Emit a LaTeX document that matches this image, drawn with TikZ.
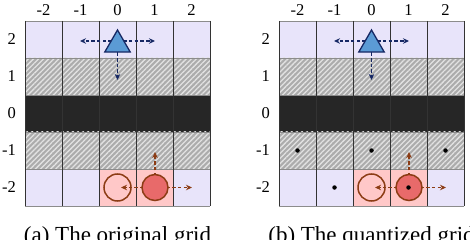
\documentclass[tikz,border=0pt]{standalone}
\usepackage{fontspec}
\setmainfont{Liberation Serif}
\usetikzlibrary{patterns.meta,arrows.meta,shapes.geometric}
\definecolor{lav}{RGB}{232,228,250}
\definecolor{hatchbg}{RGB}{172,172,172}
\definecolor{hatchln}{RGB}{226,226,226}
\definecolor{wall}{RGB}{38,38,38}
\definecolor{pinkc}{RGB}{255,200,200}
\definecolor{tribl}{RGB}{91,155,213}
\definecolor{navy}{RGB}{22,40,100}
\definecolor{brownc}{RGB}{140,60,20}
\definecolor{redf}{RGB}{232,106,106}
\begin{document}
\begin{tikzpicture}[x=1pt,y=-1pt,
  hatchrow/.style={pattern={Lines[angle=45,distance=3.6pt,line width=1.3pt]},pattern color=hatchln},
  vline/.style={draw=black!80,line width=0.8pt},
  hline/.style={draw=black!45,line width=0.5pt},
  lbl/.style={font=\fontsize{16.5}{19}\selectfont,inner sep=0pt},
  captext/.style={font=\fontsize{23}{28}\selectfont,inner sep=0pt,anchor=base},
  navarrow/.style={draw=navy,line width=1.5pt,dash pattern=on 3.5pt off 2.2pt,-{Stealth[length=6pt,width=5.5pt]}},
  brarrow/.style={draw=brownc,line width=1.5pt,dash pattern=on 3.5pt off 2.2pt,-{Stealth[length=6pt,width=5.5pt]}},
  agent/.style={regular polygon,regular polygon sides=3,minimum size=29.4pt,inner sep=0pt,fill=tribl,draw=navy,line width=1.3pt},
  hollowc/.style={circle,minimum size=27pt,inner sep=0pt,draw=brownc,line width=1.5pt},
  fullc/.style={circle,minimum size=26pt,inner sep=0pt,draw=brownc,fill=redf,line width=1.5pt},
  qdot/.style={circle,fill=black,minimum size=4.5pt,inner sep=0pt}]
\useasboundingbox (0,0) rectangle (470,240);
\foreach \g/\ox/\capt in {a/0/{(a) The original grid},b/254/{(b) The quantized grid}} {
 \begin{scope}[xshift=\ox pt]
  \fill[lav] (25,21) rectangle (210,58);
  \fill[hatchbg] (25,58) rectangle (210,95);
  \fill[hatchrow] (25,58) rectangle (210,95);
  \fill[wall] (25,95) rectangle (210,132);
  \fill[hatchbg] (25,132) rectangle (210,169);
  \fill[hatchrow] (25,132) rectangle (210,169);
  \fill[lav] (25,169) rectangle (210,206);
  \fill[pinkc] (99,169) rectangle (173,206);
  \foreach \yy in {21,58,95,132,169,206} \draw[hline] (25,\yy) -- (210,\yy);
  \foreach \xx in {25,62,99,136,173,210} \draw[vline] (\xx,21) -- (\xx,206);
  \foreach \v [count=\i from 0] in {-2,-1,0,1,2} {
    \node[lbl] (col\g\i) at (43.5+37*\i,10) {\v};
  }
  \foreach \v [count=\i from 0] in {2,1,0,-1,-2} {
    \node[lbl,anchor=east] (row\g\i) at (16,39.5+37*\i) {\v};
  }
  % agent triangle and its moves
  \coordinate (tc\g) at (117.5,41);
  \coordinate (tl\g) at (80,41);
  \coordinate (tr\g) at (155,41);
  \coordinate (td\g) at (117.5,80);
  \draw[navarrow] (tc\g) -- (tl\g);
  \draw[navarrow] (tc\g) -- (tr\g);
  \draw[navarrow] (tc\g) -- (td\g);
  \node[agent] (tri\g) at (117.5,44.7) {};
  % circles and their moves
  \node[hollowc] (hc\g) at (117.5,187.5) {};
  \coordinate (fcc\g) at (155,187.5);
  \coordinate (fl\g) at (121,187.5);
  \coordinate (fu\g) at (155,152);
  \coordinate (fr\g) at (192,187.5);
  \draw[brarrow] (fcc\g) -- (fl\g);
  \draw[brarrow] (fcc\g) -- (fu\g);
  \draw[brarrow] (fcc\g) -- (fr\g);
  \node[fullc] (fc\g) at (fcc\g) {};
  \node[captext] (cap\g) at (117.5,242) {\capt};
 \end{scope}
}
\begin{scope}[xshift=254pt]
  \node[qdot] (q1) at (43.5,150.5) {};
  \node[qdot] (q2) at (117.5,150.5) {};
  \node[qdot] (q3) at (191.5,150.5) {};
  \node[qdot] (q4) at (80.5,187.5) {};
  \node[qdot] (q5) at (154.5,187.5) {};
\end{scope}
\end{tikzpicture}
\end{document}
